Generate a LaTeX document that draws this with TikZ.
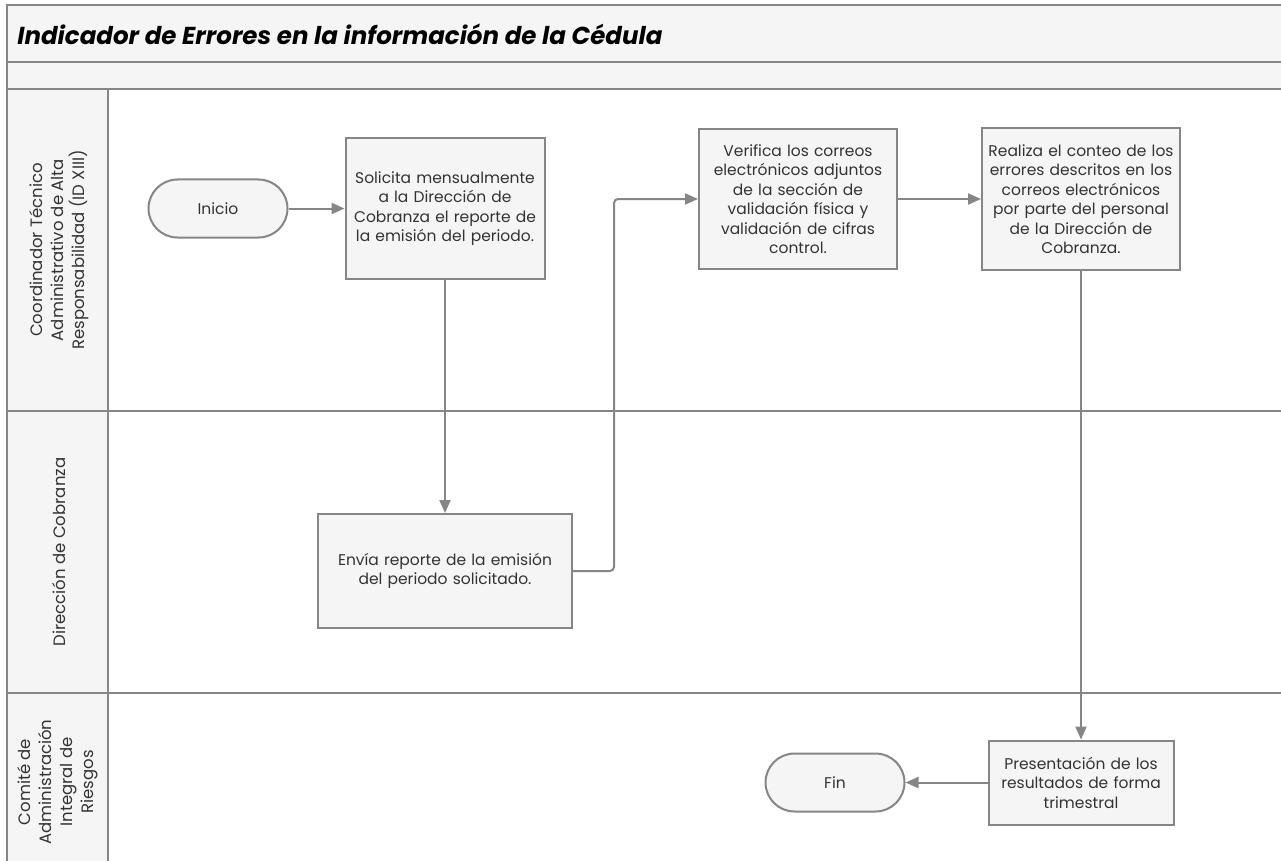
\documentclass[tikz,border=0pt]{standalone}
\usepackage{fontspec}
\setmainfont{Poppins}
\usetikzlibrary{arrows.meta, positioning}
\definecolor{lanegray}{HTML}{F5F5F5}
\definecolor{edgegray}{HTML}{868686}
\definecolor{inkgray}{HTML}{333333}

\begin{document}
\begin{tikzpicture}[x=1pt, y=-1pt, >={Triangle[length=13pt,width=11pt]}, line width=2pt,
    font=\fontsize{15.5}{19.5}\selectfont]
    % Styles
    \tikzstyle{proc} = [rectangle, draw=edgegray, fill=lanegray, text=inkgray, align=center, inner sep=3pt]
    \tikzstyle{term} = [rectangle, draw=edgegray, fill=lanegray, text=inkgray, rounded corners=29pt, minimum width=139pt, minimum height=58pt]
    \tikzstyle{line} = [draw=edgegray, ->]
    \tikzstyle{lanelabel} = [rotate=90, align=center, text=inkgray, font=\fontsize{16.5}{21}\selectfont]

    \useasboundingbox (0,0) rectangle (1281,861);
    \clip (0,0) rectangle (1281,861);

    % Pool and lanes
    \draw [edgegray, fill=lanegray, line width=2.5pt] (7,5) rectangle (1300,89);
    \draw [edgegray, line width=2.5pt] (7,62) -- (1300,62);
    \draw [edgegray, fill=white, line width=2.5pt] (7,89) rectangle (1300,880);
    \draw [edgegray, fill=lanegray, line width=2.5pt] (7,89) rectangle (108,880);
    \draw [edgegray, line width=2.5pt] (7,411) -- (1300,411);
    \draw [edgegray, line width=2.5pt] (7,693) -- (1300,693);

    \node [anchor=west, text=black, font=\fontsize{24.5}{28}\bfseries\itshape] (title) at (13,34) {Indicador de Errores en la información de la Cédula};

    \node [lanelabel] (lane1) at (59,250) {Coordinador Técnico\\Administrativo de Alta\\Responsabilidad (ID XIII)};
    \node [lanelabel] (lane2) at (59,552) {Dirección de Cobranza};
    \node [lanelabel] (lane3) at (58,782) {Comité de\\Administración\\Integral de\\Riesgos};

    % Nodes
    \node [proc, text width=193pt, minimum height=141pt] (solicita) at (445,208.5) {Solicita mensualmente\\a la Dirección de\\Cobranza el reporte de\\la emisión del periodo.};
    \node [term, left=56pt of solicita] (inicio) {Inicio};
    \node [proc, text width=248pt, minimum height=114pt, below=233pt of solicita] (envia) {Envía reporte de la emisión\\del periodo solicitado.};
    \node [proc, text width=192pt, minimum height=140pt] (verifica) at (798,199) {Verifica los correos\\electrónicos adjuntos\\de la sección de\\validación física y\\validación de cifras\\control.};
    \node [proc, text width=192pt, minimum height=141pt, right=83pt of verifica] (realiza) {Realiza el conteo de los\\errores descritos en los\\correos electrónicos\\por parte del personal\\de la Dirección de\\Cobranza.};
    \node [proc, text width=179pt, minimum height=84pt, below=469pt of realiza] (presenta) {Presentación de los\\resultados de forma\\trimestral};
    \node [term, left=82pt of presenta] (fin) {Fin};

    % Edges
    \draw [line] (inicio) -- (solicita);
    \draw [line] (solicita) -- (envia);
    \draw [line, rounded corners=4pt] (envia.east) -- ++(41,0) |- (verifica.west);
    \draw [line] (verifica) -- (realiza);
    \draw [line] (realiza) -- (presenta);
    \draw [line] (presenta) -- (fin);
\end{tikzpicture}
\end{document}
